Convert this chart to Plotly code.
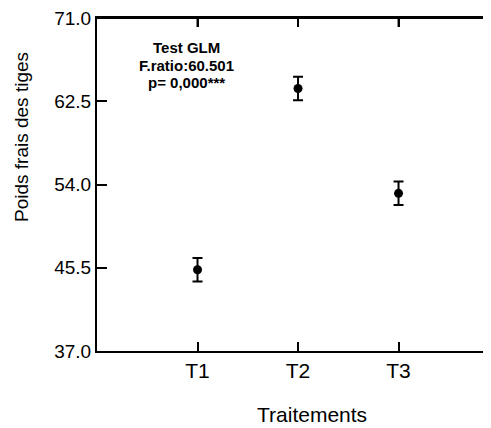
import plotly.graph_objects as go

categories = ["T1", "T2", "T3"]
positions = [1, 2, 3]
means = [45.3, 63.8, 53.1]
errors = [1.2, 1.2, 1.2]
y_ticks = [37.0, 45.5, 54.0, 62.5, 71.0]
stat_lines = ["Test GLM", "F.ratio:60.501", "p= 0,000***"]

FONT = "Arial, Liberation Sans, sans-serif"
OFF = 8  # page body margin
W, H = 491 - OFF, 428 - OFF
L, T = 97 - OFF, 18 - OFF
R = 0
B = H - (351 - OFF)
pw = W - L - R
ph = H - T - B
XR = [0, 3.92]
YR = [37, 71]

fig = go.Figure()
fig.add_trace(go.Scatter(
    x=positions, y=means, mode="markers",
    marker=dict(color="black", size=9),
    error_y=dict(type="data", array=errors, visible=True, color="black",
                 thickness=2, width=5),
    showlegend=False, cliponaxis=False,
))

fig.update_layout(
    width=W, height=H, autosize=False,
    margin=dict(l=L, r=R, t=T, b=B, pad=0),
    plot_bgcolor="white", paper_bgcolor="white",
    font=dict(family=FONT, color="black"),
    xaxis=dict(range=XR, tickvals=positions, ticktext=categories,
               showline=True, linecolor="black", linewidth=2, mirror="ticks",
               ticks="inside", ticklen=9, tickwidth=2, tickcolor="black",
               showgrid=False, zeroline=False, automargin=False,
               ticklabeloverflow="allow",
               tickfont=dict(size=21, family=FONT)),
    yaxis=dict(range=YR, tickvals=y_ticks, tickformat=".1f",
               showline=True, linecolor="black", linewidth=2, mirror=False,
               ticks="inside", ticklen=10, tickwidth=2, tickcolor="black",
               showgrid=False, zeroline=False, automargin=False,
               ticklabeloverflow="allow",
               tickfont=dict(size=19, family=FONT)),
)

# frame decorations: top border with inward ticks, right-side inward ticks
fig.add_shape(type="line", xref="paper", yref="paper", x0=0, x1=1, y0=1, y1=1,
              line=dict(color="black", width=2), layer="above")
for p in positions:
    fig.add_shape(type="line", xref="x", yref="paper", x0=p, x1=p,
                  y0=1, y1=1 - 9 / ph, line=dict(color="black", width=2),
                  layer="above")
for v in y_ticks:
    fig.add_shape(type="line", xref="paper", yref="y", x0=1 - 6 / pw, x1=1,
                  y0=v, y1=v, line=dict(color="black", width=2), layer="above")

def px_x(x):
    return (x - OFF - L) / pw

def px_y(y):
    return (H - B - (y - OFF)) / ph

for txt, yy in zip(stat_lines, [47, 65, 82]):
    fig.add_annotation(text="<b>%s</b>" % txt, xref="paper", yref="paper",
                       x=px_x(186), y=px_y(yy), showarrow=False,
                       xanchor="center", yanchor="middle",
                       font=dict(size=15, family=FONT, color="black"))

fig.add_annotation(text="Traitements", xref="paper", yref="paper",
                   x=px_x(312), y=px_y(414), showarrow=False,
                   xanchor="center", yanchor="middle",
                   font=dict(size=21, family=FONT, color="black"))
fig.add_annotation(text="Poids frais des tiges", xref="paper", yref="paper",
                   x=px_x(21), y=px_y(137), showarrow=False, textangle=-90,
                   xanchor="center", yanchor="middle",
                   font=dict(size=19, family=FONT, color="black"))

fig.write_html("out.html", config={"displayModeBar": False})
